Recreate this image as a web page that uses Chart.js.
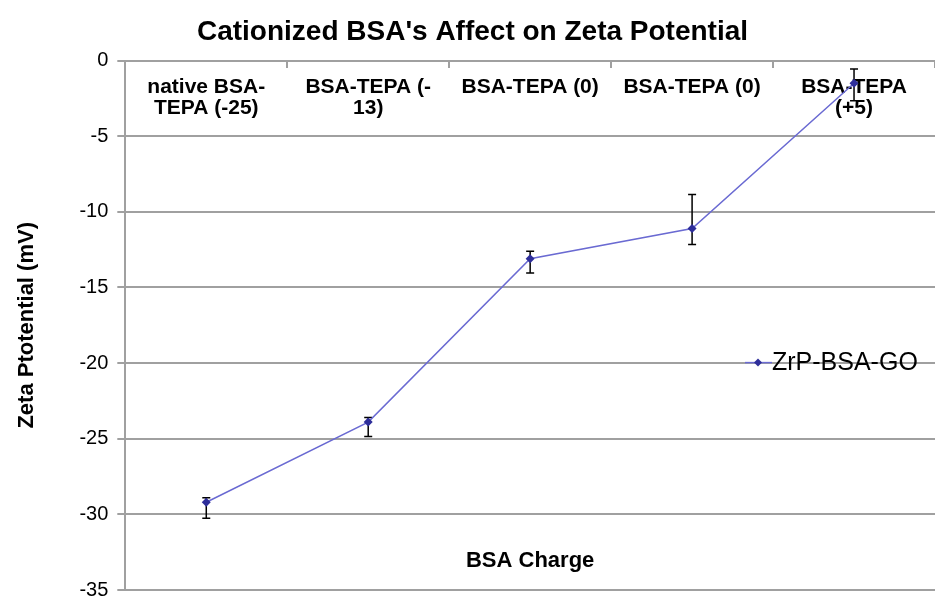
<!DOCTYPE html>
<html>
<head>
<meta charset="utf-8">
<script src="https://cdn.jsdelivr.net/npm/chart.js@4.4.0/dist/chart.umd.min.js"></script>
<style>
  body { margin: 0; background: #fff; }
</style>
</head>
<body>
<canvas id="zetaChart" width="935" height="600"></canvas>
<script>
const categories = [
  ["native BSA-", "TEPA (-25)"],
  ["BSA-TEPA (-", "13)"],
  "BSA-TEPA (0)",
  "BSA-TEPA (0)",
  ["BSA-TEPA", "(+5)"],
];
const zetaValues = [-29.2, -23.9, -13.1, -11.1, -1.5];
const errPlus = [0.3, 0.3, 0.5, 2.25, 0.95];
const errMinus = [1.05, 0.95, 0.95, 1.05, 1.15];
const yTicks = [0, -5, -10, -15, -20, -25, -30, -35];

const fontFamily = "'Liberation Sans', Arial, sans-serif";
const gridColor = "#a0a0a0";
const lineColor = "#6a6ad2";
const markerColor = "#2e2e9a";

// error bars, drawn under the markers
const errorBars = {
  id: "errorBars",
  beforeDatasetsDraw(chart) {
    const ctx = chart.ctx;
    const y = chart.scales.y;
    const meta = chart.getDatasetMeta(0);
    ctx.save();
    ctx.strokeStyle = "#000";
    ctx.lineWidth = 1.5;
    meta.data.forEach((pt, i) => {
      const top = y.getPixelForValue(zetaValues[i] + errPlus[i]);
      const bot = y.getPixelForValue(zetaValues[i] - errMinus[i]);
      ctx.beginPath();
      ctx.moveTo(pt.x, top);
      ctx.lineTo(pt.x, bot);
      ctx.moveTo(pt.x - 4, top);
      ctx.lineTo(pt.x + 4, top);
      ctx.moveTo(pt.x - 4, bot);
      ctx.lineTo(pt.x + 4, bot);
      ctx.stroke();
    });
    ctx.restore();
  },
};

// x title and legend sit inside the plot area in the original
const insideLabels = {
  id: "insideLabels",
  afterDraw(chart) {
    const { ctx, chartArea } = chart;
    ctx.save();
    ctx.fillStyle = "#000";
    ctx.textBaseline = "middle";

    ctx.font = "bold 22px " + fontFamily;
    ctx.textAlign = "center";
    ctx.fillText("BSA Charge", (chartArea.left + chartArea.right) / 2, chartArea.bottom - 29);

    const lx = chartArea.right - 190;
    const ly = chartArea.top + 302;
    ctx.strokeStyle = lineColor;
    ctx.lineWidth = 1.5;
    ctx.beginPath();
    ctx.moveTo(lx, ly);
    ctx.lineTo(lx + 27, ly);
    ctx.stroke();
    ctx.fillStyle = markerColor;
    ctx.beginPath();
    ctx.moveTo(lx + 13, ly - 4);
    ctx.lineTo(lx + 17, ly);
    ctx.lineTo(lx + 13, ly + 4);
    ctx.lineTo(lx + 9, ly);
    ctx.closePath();
    ctx.fill();

    ctx.fillStyle = "#000";
    ctx.font = "25px " + fontFamily;
    ctx.textAlign = "left";
    ctx.fillText(chart.data.datasets[0].label, lx + 27, ly + 1);
    ctx.restore();
  },
};

const ctx = document.getElementById("zetaChart").getContext("2d");
new Chart(ctx, {
  type: "line",
  data: {
    labels: categories,
    datasets: [
      {
        label: "ZrP-BSA-GO",
        data: zetaValues,
        borderColor: lineColor,
        borderWidth: 1.5,
        pointStyle: "rectRot",
        pointRadius: 4.5,
        pointBackgroundColor: markerColor,
        pointBorderColor: markerColor,
        pointBorderWidth: 0,
        tension: 0,
      },
    ],
  },
  options: {
    responsive: false,
    animation: false,
    layout: {
      autoPadding: false,
      padding: { top: 0, left: 10, right: 0, bottom: -62 },
    },
    plugins: {
      legend: { display: false },
      tooltip: { enabled: false },
      title: {
        display: true,
        text: "Cationized BSA's Affect on Zeta Potential",
        color: "#000",
        font: { family: fontFamily, size: 28, weight: "bold" },
        padding: { top: 15, bottom: 12 },
      },
    },
    scales: {
      x: {
        type: "category",
        position: { y: 0 },
        offset: true,
        grid: {
          display: true,
          drawOnChartArea: false,
          drawTicks: true,
          tickLength: 6,
          offset: true,
          color: gridColor,
          lineWidth: 2,
        },
        border: { display: true, color: gridColor, width: 2 },
        ticks: {
          color: "#000",
          font: { family: fontFamily, size: 21, weight: "bold", lineHeight: 1.0 },
          padding: 10,
          autoSkip: false,
          maxRotation: 0,
        },
      },
      y: {
        min: -35,
        max: 0,
        afterBuildTicks: (axis) => {
          axis.ticks = yTicks.map((v) => ({ value: v }));
        },
        grid: { color: gridColor, lineWidth: 2, tickLength: 8 },
        border: { color: gridColor, width: 2 },
        ticks: {
          color: "#000",
          font: { family: fontFamily, size: 20, lineHeight: 0.1 },
          padding: 9,
        },
        title: {
          display: true,
          text: "Zeta Ptotential (mV)",
          color: "#000",
          font: { family: fontFamily, size: 22, weight: "bold" },
          padding: { top: 4, bottom: 30 },
        },
      },
    },
  },
  plugins: [errorBars, insideLabels],
});
</script>
</body>
</html>
